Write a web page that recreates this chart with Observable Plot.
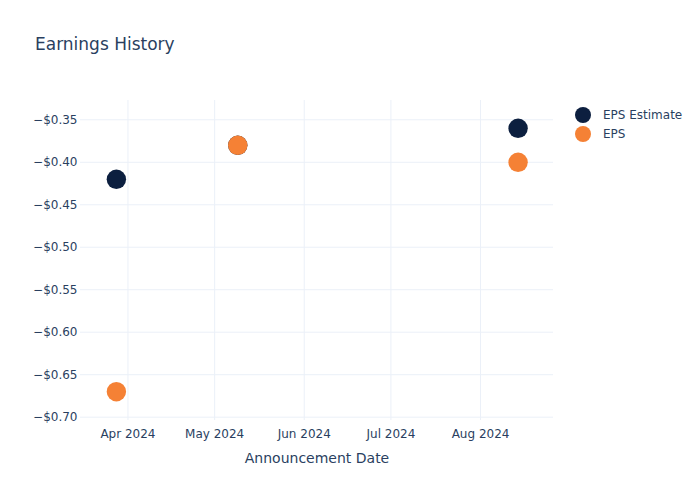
<!DOCTYPE html>
<html>
<head>
<meta charset="utf-8">
<script src="https://cdn.jsdelivr.net/npm/d3@7"></script>
<script src="https://cdn.jsdelivr.net/npm/@observablehq/plot@0.6"></script>
<style>
  html, body { margin: 0; padding: 0; background: #fff; }
  #wrap { position: relative; width: 700px; height: 500px; font-family: "DejaVu Sans", sans-serif; color: #2a3f5f; }
  #title { position: absolute; left: 35px; top: 34px; font-size: 17px; line-height: 20px; }
  #legend { position: absolute; left: 575px; top: 105px; font-size: 12px; }
  .item { display: flex; align-items: center; height: 19px; }
  .dot { width: 16px; height: 16px; border-radius: 50%; margin-right: 12px; }
  #chart { position: absolute; left: 0; top: 0; }
</style>
</head>
<body>
<div id="wrap">
  <div id="chart"></div>
  <div id="title">Earnings History</div>
  <div id="legend"></div>
</div>
<script>
const dates = ["2024-03-28", "2024-05-09", "2024-08-14"];
const epsEstimate = [-0.42, -0.38, -0.36];
const epsActual = [-0.67, -0.38, -0.40];
const seriesNames = ["EPS Estimate", "EPS"];
const seriesColors = ["#0c1f3f", "#f58135"];
const yTicks = [-0.70, -0.65, -0.60, -0.55, -0.50, -0.45, -0.40, -0.35];
const xTicks = ["2024-04-01", "2024-05-01", "2024-06-01", "2024-07-01", "2024-08-01"];

const rows = [];
dates.forEach((d, i) => {
  rows.push({date: new Date(d), value: epsEstimate[i], series: seriesNames[0]});
});
dates.forEach((d, i) => {
  rows.push({date: new Date(d), value: epsActual[i], series: seriesNames[1]});
});

const fmtY = v => "\u2212$" + Math.abs(v).toFixed(2);
const fmtX = d3.utcFormat("%b %Y");

const chart = Plot.plot({
  width: 700,
  height: 500,
  marginTop: 100,
  marginBottom: 80,
  marginLeft: 80,
  marginRight: 147,
  style: {fontFamily: "DejaVu Sans, sans-serif", fontSize: "12px", color: "#2a3f5f", background: "#fff"},
  x: {
    type: "utc",
    domain: [new Date("2024-03-15T14:00Z"), new Date("2024-08-26T06:00Z")],
    ticks: xTicks.map(d => new Date(d)),
    tickFormat: fmtX,
    tickSize: 0,
    tickPadding: 9,
    label: null
  },
  y: {
    domain: [-0.7039, -0.3273],
    ticks: yTicks,
    tickFormat: fmtY,
    tickSize: 0,
    tickPadding: 3,
    label: null
  },
  color: {domain: seriesNames, range: seriesColors},
  marks: [
    Plot.gridX(xTicks.map(d => new Date(d)), {stroke: "#ebf0f8", strokeOpacity: 1, strokeWidth: 1}),
    Plot.gridY(yTicks, {stroke: "#ebf0f8", strokeOpacity: 1, strokeWidth: 1}),
    Plot.axisX({ticks: xTicks.map(d => new Date(d)), tickFormat: fmtX, tickSize: 0, tickPadding: 9, fill: "#2a3f5f", fontSize: 12, label: null}),
    Plot.axisY({ticks: yTicks, tickFormat: fmtY, tickSize: 0, tickPadding: 3, fill: "#2a3f5f", fontSize: 12, label: null}),
    Plot.dot(rows, {x: "date", y: "value", fill: "series", r: 9.7, stroke: "none"}),
    Plot.text(["Announcement Date"], {frameAnchor: "bottom", dy: 42, text: d => d, fontSize: 14, fill: "#2a3f5f"})
  ]
});
document.getElementById("chart").appendChild(chart);

const legend = document.getElementById("legend");
seriesNames.forEach((n, i) => {
  const item = document.createElement("div");
  item.className = "item";
  item.innerHTML = `<span class="dot" style="background:${seriesColors[i]}"></span><span>${n}</span>`;
  legend.appendChild(item);
});
</script>
</body>
</html>
